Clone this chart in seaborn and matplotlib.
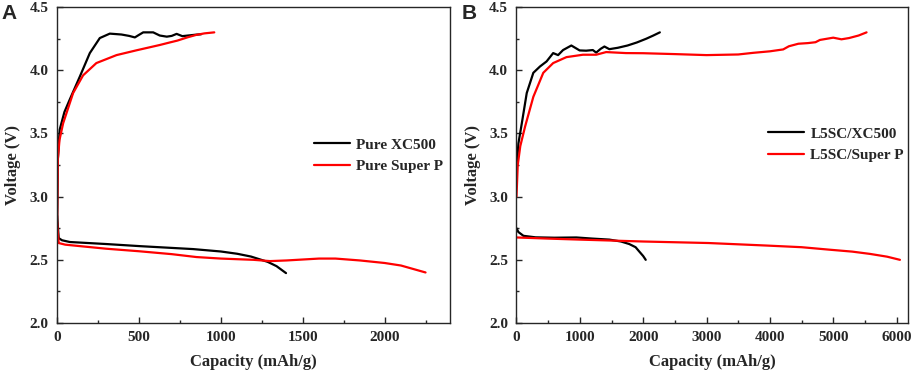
import matplotlib
matplotlib.use("Agg")
import matplotlib.pyplot as plt
from matplotlib.ticker import MultipleLocator, FormatStrFormatter
from matplotlib.lines import Line2D
import pandas as pd
import seaborn as sns

# %%
# panel A: pure carbons
a_xc_charge_cap = [0, 5, 16, 45, 78, 139, 200, 261, 322, 393, 440, 475, 500, 526, 587, 627, 670, 700, 730, 765, 800, 850, 880]
a_xc_charge_v = [2.75, 3.3, 3.53, 3.67, 3.77, 3.95, 4.136, 4.255, 4.29, 4.283, 4.272, 4.26, 4.28, 4.30, 4.30, 4.275, 4.266, 4.272, 4.288, 4.27, 4.275, 4.282, 4.285]
a_sp_charge_cap = [0, 5, 15, 37, 98, 159, 240, 363, 485, 627, 688, 735, 800, 850, 900, 960]
a_sp_charge_v = [2.75, 3.3, 3.45, 3.58, 3.82, 3.96, 4.057, 4.12, 4.158, 4.2, 4.22, 4.235, 4.262, 4.28, 4.292, 4.30]
a_xc_dis_cap = [0, 10, 30, 78, 300, 510, 831, 1000, 1100, 1184, 1286, 1340, 1398]
a_xc_dis_v = [2.85, 2.672, 2.655, 2.641, 2.625, 2.608, 2.585, 2.566, 2.548, 2.526, 2.484, 2.45, 2.395]
a_sp_dis_cap = [0, 10, 50, 159, 300, 500, 700, 851, 1000, 1200, 1300, 1400, 1600, 1700, 1850, 2000, 2100, 2250]
a_sp_dis_v = [2.8, 2.633, 2.62, 2.606, 2.588, 2.568, 2.545, 2.522, 2.51, 2.5, 2.49, 2.495, 2.51, 2.51, 2.495, 2.475, 2.455, 2.40]

# panel B: L5SC cathodes
b_xc_charge_cap = [0, 30, 84, 162, 266, 371, 475, 579, 657, 735, 866, 997, 1100, 1205, 1258, 1330, 1388, 1466, 1600, 1753, 1900, 2050, 2160, 2263]
b_xc_charge_v = [3.2, 3.42, 3.58, 3.82, 3.98, 4.03, 4.07, 4.136, 4.12, 4.16, 4.196, 4.157, 4.155, 4.16, 4.14, 4.17, 4.188, 4.167, 4.178, 4.196, 4.22, 4.25, 4.275, 4.30]
b_sp_charge_cap = [0, 20, 60, 136, 266, 423, 579, 789, 1049, 1258, 1415, 1728, 2000, 2500, 3000, 3500, 3737, 4000, 4210, 4300, 4450, 4600, 4720, 4790, 5000, 5130, 5250, 5400, 5526]
b_sp_charge_v = [3.0, 3.25, 3.4, 3.555, 3.79, 3.98, 4.057, 4.104, 4.123, 4.123, 4.144, 4.136, 4.135, 4.128, 4.12, 4.125, 4.138, 4.15, 4.165, 4.19, 4.21, 4.215, 4.222, 4.24, 4.258, 4.245, 4.255, 4.275, 4.30]
b_xc_dis_cap = [0, 30, 110, 300, 600, 945, 1200, 1466, 1650, 1780, 1880, 1936, 2000, 2040]
b_xc_dis_v = [2.75, 2.72, 2.69, 2.678, 2.675, 2.677, 2.668, 2.66, 2.645, 2.625, 2.6, 2.567, 2.53, 2.50]
b_sp_dis_cap = [0, 500, 1000, 2000, 3031, 3947, 4500, 4947, 5300, 5579, 5850, 6053]
b_sp_dis_v = [2.677, 2.668, 2.66, 2.645, 2.633, 2.613, 2.6, 2.58, 2.565, 2.547, 2.525, 2.50]

a_labels = ["Pure XC500", "Pure Super P"]
b_labels = ["L5SC/XC500", "L5SC/Super P"]
colors = ["black", "#ff0000"]

panels = [
    ("A", a_labels, [(a_xc_charge_cap, a_xc_charge_v, a_xc_dis_cap, a_xc_dis_v),
                     (a_sp_charge_cap, a_sp_charge_v, a_sp_dis_cap, a_sp_dis_v)],
     (0, 2400), 500, 250, (0.0625, 0.134, 0.4305, 0.847), (0.637, 0.605)),
    ("B", b_labels, [(b_xc_charge_cap, b_xc_charge_v, b_xc_dis_cap, b_xc_dis_v),
                     (b_sp_charge_cap, b_sp_charge_v, b_sp_dis_cap, b_sp_dis_v)],
     (0, 6180), 1000, 500, (0.5657, 0.134, 0.4288, 0.847), (0.626, 0.64)),
]

# %%
sns.set_style("ticks")
plt.rcParams["font.family"] = ["Liberation Serif", "DejaVu Serif"]
plt.rcParams["font.weight"] = "bold"

fig = plt.figure(figsize=(9.13, 3.73), dpi=100)

for letter, labels, curves, xlim, xmaj, xmin, rect, leg_anchor in panels:
    ax = fig.add_axes(rect)
    for (c_cap, c_v, d_cap, d_v), lab, col in zip(curves, labels, colors):
        seg = pd.concat([
            pd.DataFrame({"cap": c_cap, "v": c_v, "part": "charge"}),
            pd.DataFrame({"cap": d_cap, "v": d_v, "part": "discharge"}),
        ])
        sns.lineplot(data=seg, x="cap", y="v", units="part", estimator=None,
                     sort=False, color=col, lw=1.6, ax=ax, legend=False)

    ax.set_xlim(*xlim)
    ax.set_ylim(2.0, 4.5)
    ax.xaxis.set_major_locator(MultipleLocator(xmaj))
    ax.xaxis.set_minor_locator(MultipleLocator(xmin))
    ax.yaxis.set_major_locator(MultipleLocator(0.5))
    ax.yaxis.set_minor_locator(MultipleLocator(0.25))
    ax.yaxis.set_major_formatter(FormatStrFormatter("%.1f"))
    ax.tick_params(which="both", direction="in", top=False, right=False,
                   labelsize=11, width=1, pad=6)
    ax.tick_params(which="major", length=4)
    ax.tick_params(which="minor", length=2.5)
    for s in ax.spines.values():
        s.set_linewidth(1)
    ax.set_xlabel("Capacity (mAh/g)", fontsize=12, fontweight="bold", labelpad=7)
    ax.set_ylabel("Voltage (V)", fontsize=12, fontweight="bold", labelpad=6)

    handles = [Line2D([0], [0], color=c, lw=1.6) for c in colors]
    ax.legend(handles, labels, loc="upper left", bbox_to_anchor=leg_anchor,
              frameon=False, fontsize=11, handlelength=2.4, handletextpad=0.4,
              labelspacing=0.5, borderaxespad=0)

    fig.text(rect[0] - 0.0605, 0.988, letter, fontsize=15, fontweight="bold",
             family=["Liberation Sans", "DejaVu Sans"], va="top", ha="left")

fig.savefig("out.png", dpi=100)
